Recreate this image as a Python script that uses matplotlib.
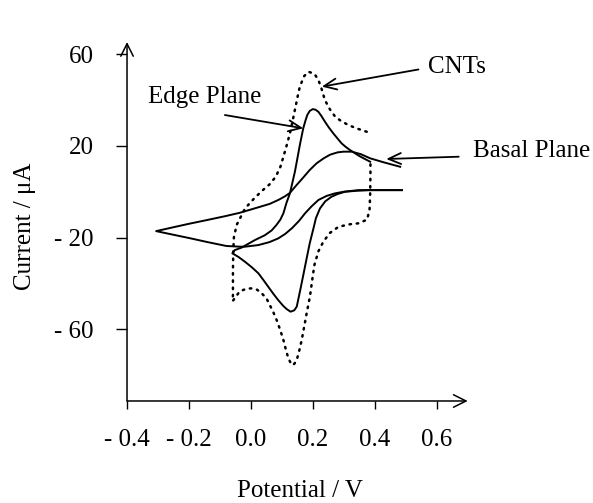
import matplotlib
matplotlib.use("Agg")
import matplotlib.pyplot as plt

plt.rcParams['font.family'] = ['Liberation Serif', 'DejaVu Serif']
plt.rcParams['font.size'] = 18

# axis ticks
x_ticks = [-0.4, -0.2, 0.0, 0.2, 0.4, 0.6]
x_tick_labels = ["- 0.4", "- 0.2", "0.0", "0.2", "0.4", "0.6"]
y_ticks = [60, 20, -20, -60]
y_tick_labels = ["60", "20", "- 20", "- 60"]

# edge plane (solid) - potential / V, current / uA
edge_v = [0.488, 0.43, 0.38, 0.34, 0.304, 0.28, 0.26, 0.24, 0.223, 0.21, 0.202, 0.19, 0.18, 0.169,
          0.16, 0.153, 0.148, 0.14, 0.128, 0.115, 0.104, 0.088, 0.072, 0.056, 0.04, 0.024, 0.003,
          -0.019, -0.04, -0.06, -0.052, -0.03, 0.013, 0.045, 0.067, 0.082, 0.095, 0.105, 0.115,
          0.126, 0.134, 0.142, 0.15, 0.158, 0.169, 0.176, 0.182, 0.19, 0.2, 0.209, 0.218, 0.228,
          0.239, 0.252, 0.266, 0.28, 0.293, 0.306, 0.32, 0.35, 0.385]
edge_i = [0.7, 0.7, 0.7, 0.4, 0.0, -1.0, -2.2, -4.2, -7.3, -11.5, -16, -22.5, -29.1, -36.5,
          -42.5, -47, -50.2, -51.8, -52.4, -51.2, -49.8, -47.3, -44.5, -41.5, -38.5, -35.6, -33,
          -30.6, -28.5, -26.9, -25.5, -24.4, -21.1, -19, -16.9, -14.6, -12.2, -9.4, -4.8,
          -0.7, 4, 8.7, 14.5, 20.4, 27.7, 31, 33.5, 35.3, 36.1, 35.8, 34.9, 33,
          30.6, 28, 25.5, 23.2, 21.1, 19.6, 18.2, 15.6, 13.1]

# basal plane (solid)
basal_v = [0.488, 0.42, 0.347, 0.3, 0.272, 0.245, 0.218, 0.195, 0.175, 0.155, 0.132, 0.11, 0.088,
           0.06, 0.024, -0.019, -0.036, -0.079, -0.14, -0.197, -0.25, -0.306, -0.25, -0.2, -0.143,
           -0.084, -0.036, 0.024, 0.061, 0.09, 0.11, 0.126, 0.148, 0.169, 0.19, 0.212, 0.235,
           0.256, 0.28, 0.299, 0.326, 0.355, 0.385, 0.43, 0.482]
basal_i = [0.7, 0.7, 0.7, 0.0, -0.7, -1.8, -3.6, -6.5, -9.4, -12.8, -16, -18.5, -20.4,
           -22, -23.3, -24, -24, -23.7, -22, -20.3, -18.8, -17.2, -15.5, -14.0, -12.4,
           -10.7, -9.2, -6.8, -5.3, -3.5, -2, -0.5, 3, 6.2, 9.5, 12.4, 14.6,
           16.2, 17.2, 17.5, 17.5, 16.4, 14.6, 12.8, 10.9]

# CNTs (dotted)
cnt_v = [0.374, 0.345, 0.315, 0.29, 0.272, 0.255, 0.239, 0.228, 0.218, 0.205, 0.186, 0.172, 0.158,
         0.15, 0.142, 0.134, 0.126, 0.115, 0.105, 0.095, 0.08, 0.06, 0.035, 0.008, -0.019, -0.046,
         -0.055, -0.057, -0.058, -0.058, -0.059, -0.036, -0.015, 0.002, 0.02, 0.035, 0.05, 0.061,
         0.072, 0.083, 0.095, 0.105, 0.113, 0.121, 0.132, 0.14, 0.148, 0.156, 0.164, 0.172, 0.18,
         0.191, 0.198, 0.205, 0.218, 0.234, 0.255, 0.283, 0.32, 0.347, 0.375, 0.383, 0.385, 0.386,
         0.386]
cnt_i = [26.2, 27.5, 29.1, 31, 32.8, 36, 40, 45, 48.8, 51.5, 52.4, 50.5, 45.9,
         41, 35.7, 30.5, 25.5, 20, 15.3, 10.8, 6.5, 3.2, 0.3, -3.3, -7.3, -14.5,
         -20, -26.2, -35, -45, -47.8, -43.5, -42.4, -42.2, -42.8, -44.4, -46.5, -49.5,
         -52.5, -56, -60.5, -64.8, -69, -72.8, -75.7, -75.2, -73.5, -69.5, -64.8, -59, -53.1,
         -45.5, -38.5, -32, -26, -21.8, -18, -15.3, -14.2, -13.8, -12.2, -8, -1.4, 7.3,
         13.8]

fig = plt.figure(figsize=(5.93, 5.03), dpi=100)
ax = fig.add_axes([0.2142, 0.2028, 0.5745, 0.7137])

ax.plot(edge_v, edge_i, color="black", lw=1.4)
ax.plot(basal_v, basal_i, color="black", lw=1.4)
ax.plot(cnt_v, cnt_i, color="black", lw=1.8, linestyle=(0, (0.6, 2.3)), dash_capstyle="round")

ax.set_xlim(-0.4, 0.7)
ax.set_ylim(-91.4, 65.4)

# axes drawn as arrows, no box
for s in ax.spines.values():
    s.set_visible(False)
arrow = dict(arrowstyle="->,head_length=0.5,head_width=0.25", lw=1.1, color="black",
             shrinkA=0, shrinkB=0)
ax.annotate("", xy=(1, 0), xytext=(0, 0), xycoords="axes fraction", arrowprops=arrow)
ax.annotate("", xy=(0, 1), xytext=(0, 0), xycoords="axes fraction", arrowprops=arrow)

ax.set_xticks(x_ticks)
ax.set_xticklabels(x_tick_labels)
ax.set_yticks(y_ticks)
ax.set_yticklabels(y_tick_labels)
ax.tick_params(axis="x", direction="out", length=6, width=1, pad=14)
ax.tick_params(axis="y", direction="out", length=8, width=1, pad=16)

ax.set_xlabel("Potential / V")
ax.set_ylabel("Current / μA")
ax.xaxis.label.set_va("center")
ax.yaxis.label.set_va("center")
ax.xaxis.set_label_coords(0.508, -0.25)
ax.yaxis.set_label_coords(-0.298, 0.487)

# labels with arrows
lbl_arrow = dict(arrowstyle="->,head_length=0.5,head_width=0.22", lw=1.3, color="black",
                 shrinkA=0, shrinkB=0)
ax.text(-0.333, 41.5, "Edge Plane", ha="left", va="center")
ax.annotate("", xy=(0.169, 27.7), xytext=(-0.084, 33.5), arrowprops=lbl_arrow)
ax.text(0.573, 54.6, "CNTs", ha="left", va="center")
ax.annotate("", xy=(0.229, 45.9), xytext=(0.541, 53.4), arrowprops=lbl_arrow)
ax.text(0.718, 17.8, "Basal Plane", ha="left", va="center", clip_on=False)
ax.annotate("", xy=(0.437, 14.3), xytext=(0.671, 15.3), arrowprops=lbl_arrow)

fig.savefig("out.png", dpi=100)
